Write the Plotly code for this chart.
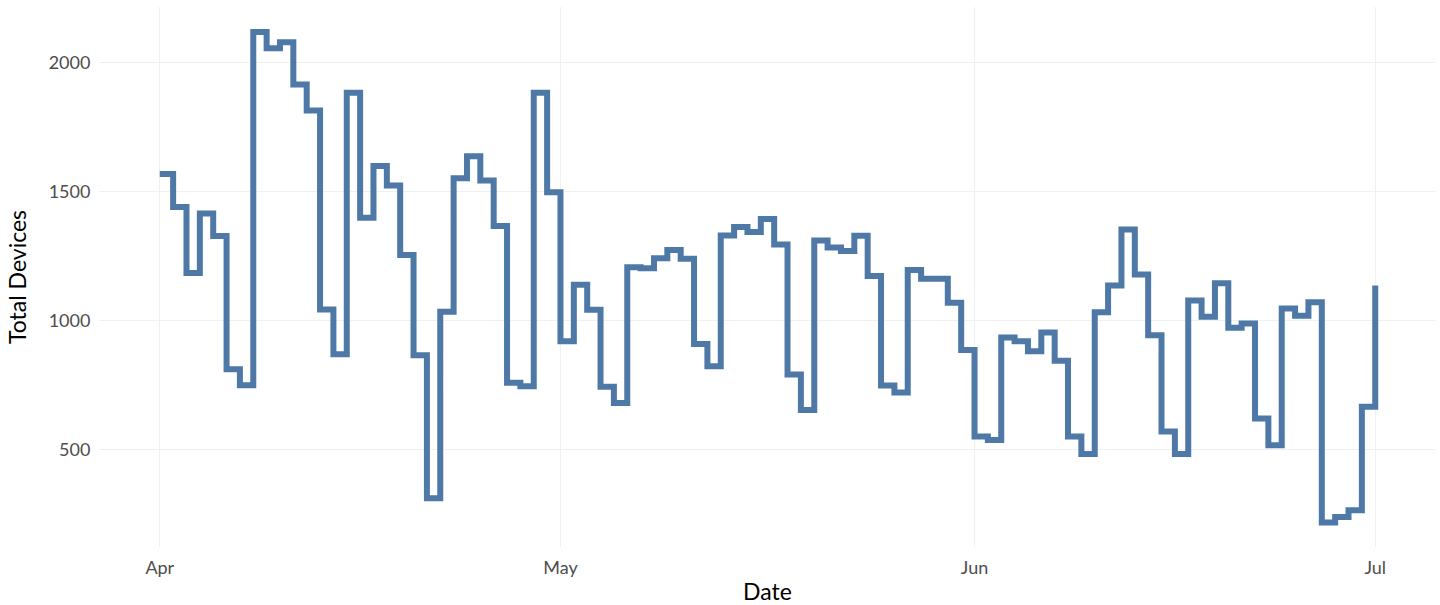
import pandas as pd
import plotly.graph_objects as go

start_date = "2021-04-01"
total_devices = [
    1567, 1439, 1183, 1414, 1326, 810, 748, 2117, 2054, 2077,
    1914, 1813, 1042, 868, 1882, 1397, 1598, 1522, 1253, 864,
    310, 1033, 1550, 1636, 1542, 1365, 758, 744, 1882, 1496,
    918, 1137, 1041, 742, 679, 1205, 1201, 1240, 1272, 1238,
    908, 822, 1328, 1361, 1342, 1392, 1293, 790, 652, 1309,
    1282, 1268, 1327, 1171, 747, 720, 1195, 1161, 1161, 1068,
    885, 549, 536, 933, 918, 880, 952, 843, 549, 481,
    1031, 1135, 1352, 1177, 942, 569, 481, 1076, 1013, 1143,
    971, 987, 619, 515, 1045, 1017, 1070, 216, 237, 263,
    665, 1135,
]
dates = pd.date_range(start_date, periods=len(total_devices), freq="D")

tick_vals = ["2021-04-01", "2021-05-01", "2021-06-01", "2021-07-01"]
tick_text = ["Apr", "May", "Jun", "Jul"]
y_ticks = [500, 1000, 1500, 2000]

fig = go.Figure()
fig.add_trace(go.Scatter(
    x=dates, y=total_devices, mode="lines",
    line=dict(shape="hv", color="#4e79a7", width=6),
    hoverinfo="x+y", showlegend=False,
))

font_family = "Lato, 'Noto Sans', sans-serif"
fig.update_layout(
    width=1440, height=605,
    margin=dict(l=99, r=4, t=7, b=58),
    paper_bgcolor="white", plot_bgcolor="white",
    font=dict(family=font_family, color="#4d4d4d", size=18),
    xaxis=dict(
        range=["2021-03-27 10:48", "2021-07-05 13:12"],
        tickvals=tick_vals, ticktext=tick_text,
        showgrid=True, gridcolor="#f0f0f0", gridwidth=1,
        zeroline=False, showline=False, automargin=False,
        ticks="outside", ticklen=4, tickcolor="rgba(0,0,0,0)",
        tickfont=dict(size=18, color="#4d4d4d"),
        title=dict(text="Date", font=dict(size=23, color="black")),
    ),
    yaxis=dict(
        range=[121, 2214],
        tickvals=y_ticks,
        showgrid=True, gridcolor="#f0f0f0", gridwidth=1,
        zeroline=False, showline=False, automargin=False,
        ticks="outside", ticklen=4, tickcolor="rgba(0,0,0,0)",
        tickfont=dict(size=18, color="#4d4d4d"),
        title=dict(text="Total Devices", font=dict(size=23, color="black")),
    ),
)
fig.write_html(
    "out.html",
    config={"displayModeBar": False},
    post_script="document.body.style.margin='0';document.body.style.overflow='hidden';",
)
